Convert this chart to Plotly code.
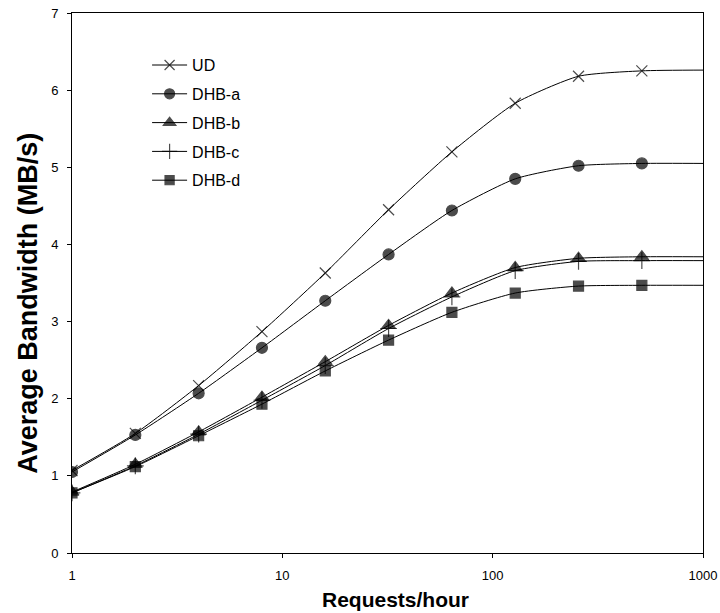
import plotly.graph_objects as go

requests = [1, 2, 4, 8, 16, 32, 64, 128, 256, 512, 1024]
ud    = [1.07, 1.55, 2.17, 2.87, 3.63, 4.45, 5.20, 5.83, 6.18, 6.25, 6.26]
dhb_a = [1.05, 1.53, 2.07, 2.66, 3.27, 3.87, 4.44, 4.85, 5.02, 5.05, 5.05]
dhb_b = [0.79, 1.15, 1.57, 2.02, 2.48, 2.95, 3.37, 3.70, 3.82, 3.84, 3.84]
dhb_c = [0.78, 1.13, 1.54, 1.98, 2.43, 2.91, 3.32, 3.66, 3.78, 3.79, 3.79]
dhb_d = [0.78, 1.12, 1.52, 1.93, 2.36, 2.76, 3.12, 3.37, 3.46, 3.47, 3.47]

series = [
    ("UD", ud, "x-thin-open", 11),
    ("DHB-a", dhb_a, "circle", 11),
    ("DHB-b", dhb_b, "triangle-up", 12),
    ("DHB-c", dhb_c, "cross-thin-open", 12),
    ("DHB-d", dhb_d, "square", 10),
]

fig = go.Figure()
for name, vals, sym, sz in series:
    sizes = [sz] * (len(requests) - 1) + [0]
    fig.add_trace(go.Scatter(
        x=requests, y=vals, name=name, mode="lines+markers",
        legendgroup=name,
        line=dict(color="black", width=1, shape="spline", smoothing=0.6),
        marker=dict(symbol=sym, size=sizes, color="black",
                    line=dict(color="black", width=1.2)),
    ))

fig.update_layout(
    width=720, height=613,
    paper_bgcolor="white", plot_bgcolor="white",
    margin=dict(l=72, r=17, t=13, b=60),
    font=dict(family="Liberation Sans, Arial, sans-serif", color="black", size=13),
    showlegend=True,
    legend=dict(x=0.119, y=0.935, xanchor="left", yanchor="top",
                bgcolor="rgba(0,0,0,0)", font=dict(size=16),
                tracegroupgap=5, itemwidth=35),
    annotations=[
        dict(text="<b>Average Bandwidth (MB/s)</b>", textangle=-90,
             xref="paper", yref="paper", x=-0.07, y=0.463,
             xanchor="center", yanchor="middle", showarrow=False,
             font=dict(size=27)),
        dict(text="<b>Requests/hour</b>",
             xref="paper", yref="paper", x=0.512, y=-0.087,
             xanchor="center", yanchor="middle", showarrow=False,
             font=dict(size=21)),
    ],
)
fig.update_xaxes(
    type="log", range=[0, 3], automargin=False,
    tickvals=[1, 10, 100, 1000], ticktext=["1", "10", "100", "1000"],
    showgrid=False, zeroline=False,
    showline=True, linecolor="black", linewidth=1, mirror=True,
    ticks="outside", ticklen=4, tickcolor="black", ticklabelstandoff=6,
)
fig.update_yaxes(
    range=[0, 7], dtick=1, automargin=False,
    showgrid=False, zeroline=False,
    showline=True, linecolor="black", linewidth=1, mirror=True,
    ticks="outside", ticklen=4, tickcolor="black", ticklabelstandoff=6,
)

fig.write_html("out.html", config={"displayModeBar": False},
               post_script="document.body.style.margin='0';")
